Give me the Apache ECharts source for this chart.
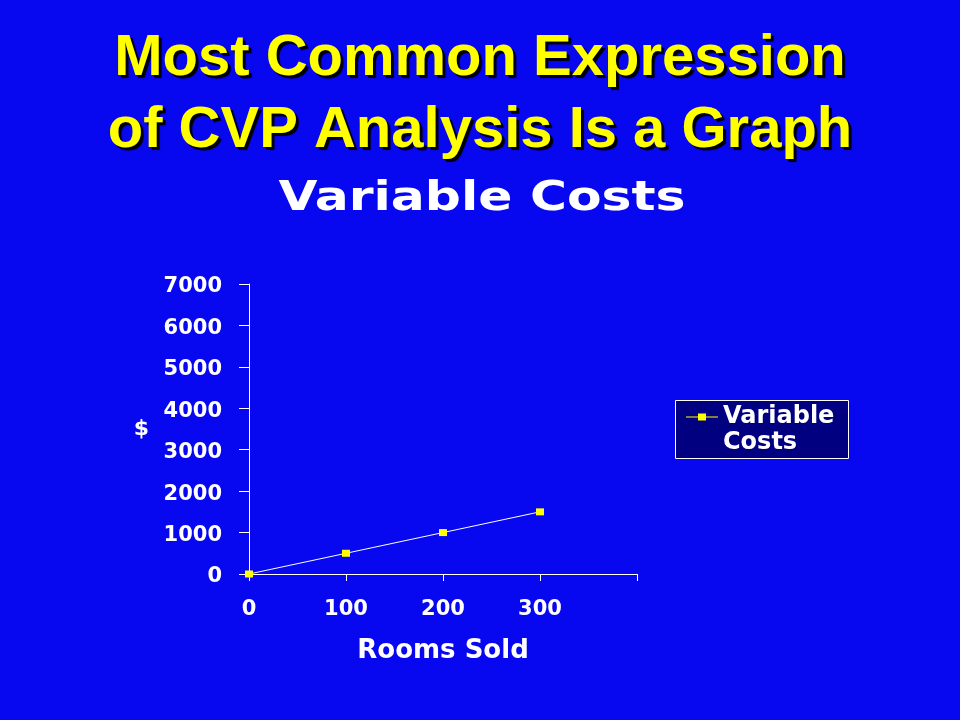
<!DOCTYPE html>
<html>
<head>
<meta charset="utf-8">
<script src="https://cdn.jsdelivr.net/npm/echarts@6/dist/echarts.min.js"></script>
<style>html,body{margin:0;padding:0;background:#0808F0;}#c{width:960px;height:720px;}</style>
</head>
<body>
<div id="c"></div>
<script>
var roomsSold = [0, 100, 200, 300];
var variableCosts = [0, 500, 1000, 1500];
var seriesName = 'Variable Costs';
var yTicks = [0, 1000, 2000, 3000, 4000, 5000, 6000, 7000];
var xTicks = [0, 100, 200, 300];

var chart = echarts.init(document.getElementById('c'));
chart.setOption({
  backgroundColor: '#0808F0',
  animation: false,
  title: [
    {
      text: 'Most Common Expression\nof CVP Analysis Is a Graph',
      left: 'center', top: 18,
      textStyle: {
        color: '#FFFF00', fontFamily: 'Liberation Sans', fontWeight: 'bold',
        fontSize: 58, lineHeight: 72,
        textShadowColor: '#000000', textShadowOffsetX: 3, textShadowOffsetY: 3, textShadowBlur: 1
      }
    }
  ],
  graphic: [
    {
      type: 'text',
      x: 482, y: 200,
      scaleX: 1.26, scaleY: 1,
      style: {
        text: 'Variable Costs',
        x: 0, y: 0,
        align: 'center', verticalAlign: 'middle',
        fill: '#FFFFFF',
        font: 'bold 40px "DejaVu Sans"'
      }
    },
    {
      type: 'rect',
      z: 1,
      shape: { x: 675.5, y: 400.5, width: 173, height: 58 },
      style: { fill: '#000080', stroke: '#FFFFFF', lineWidth: 1 }
    }
  ],
  legend: {
    data: [{ name: seriesName }],
    orient: 'vertical',
    left: 675, top: 404,
    padding: [0, 13, 0, 11],
    z: 5,
    itemWidth: 32, itemHeight: 52,
    icon: 'path://M0,0 M0,52 M0,12.5 L32,12.5 L32,13.5 L0,13.5 Z M12,9.5 L20,9.5 L20,16.5 L12,16.5 Z',
    itemStyle: { color: '#FFFF00', borderWidth: 0 },
    formatter: function () { return 'Variable\nCosts'; },
    textStyle: {
      color: '#FFFFFF', fontFamily: 'DejaVu Sans', fontWeight: 'bold', fontSize: 24, lineHeight: 26
    }
  },
  grid: { left: 249, top: 284, width: 388, height: 290, containLabel: false },
  xAxis: {
    type: 'value',
    min: 0, max: 400, interval: 100,
    name: 'Rooms Sold', nameLocation: 'middle', nameGap: 64,
    nameTextStyle: { color: '#FFFFFF', fontFamily: 'DejaVu Sans', fontWeight: 'bold', fontSize: 26 },
    axisLine: { lineStyle: { color: '#FFFFFF', width: 1 } },
    axisTick: { show: true, length: 7, lineStyle: { color: '#FFFFFF' } },
    splitLine: { show: false },
    axisLabel: {
      color: '#FFFFFF', fontFamily: 'DejaVu Sans', fontWeight: 'bold', fontSize: 21, margin: 25,
      formatter: function (v) { return xTicks.indexOf(v) >= 0 ? String(v) : ''; }
    }
  },
  yAxis: {
    type: 'value',
    min: 0, max: 7000, interval: 1000,
    name: '$', nameLocation: 'middle', nameGap: 100, nameRotate: 0,
    nameTextStyle: { color: '#FFFFFF', fontFamily: 'DejaVu Sans', fontWeight: 'bold', fontSize: 22 },
    axisLine: { show: true, lineStyle: { color: '#FFFFFF', width: 1 } },
    axisTick: { show: true, length: 10, lineStyle: { color: '#FFFFFF' } },
    splitLine: { show: false },
    axisLabel: {
      color: '#FFFFFF', fontFamily: 'DejaVu Sans', fontWeight: 'bold', fontSize: 21, margin: 27,
      rich: { v: { color: '#FFFFFF', fontFamily: 'DejaVu Sans', fontWeight: 'bold', fontSize: 21, padding: [6, 0, 0, 0] } },
      formatter: function (v) { return yTicks.indexOf(v) >= 0 ? '{v|' + v + '}' : ''; }
    }
  },
  series: [{
    name: seriesName,
    type: 'line',
    data: roomsSold.map(function (x, i) { return [x, variableCosts[i]]; }),
    symbol: 'rect', symbolSize: [8, 7],
    symbolKeepAspect: false,
    itemStyle: { color: '#FFFF00' },
    lineStyle: { color: '#FFFFFF', width: 1 },
    z: 3
  }]
});
</script>
</body>
</html>
